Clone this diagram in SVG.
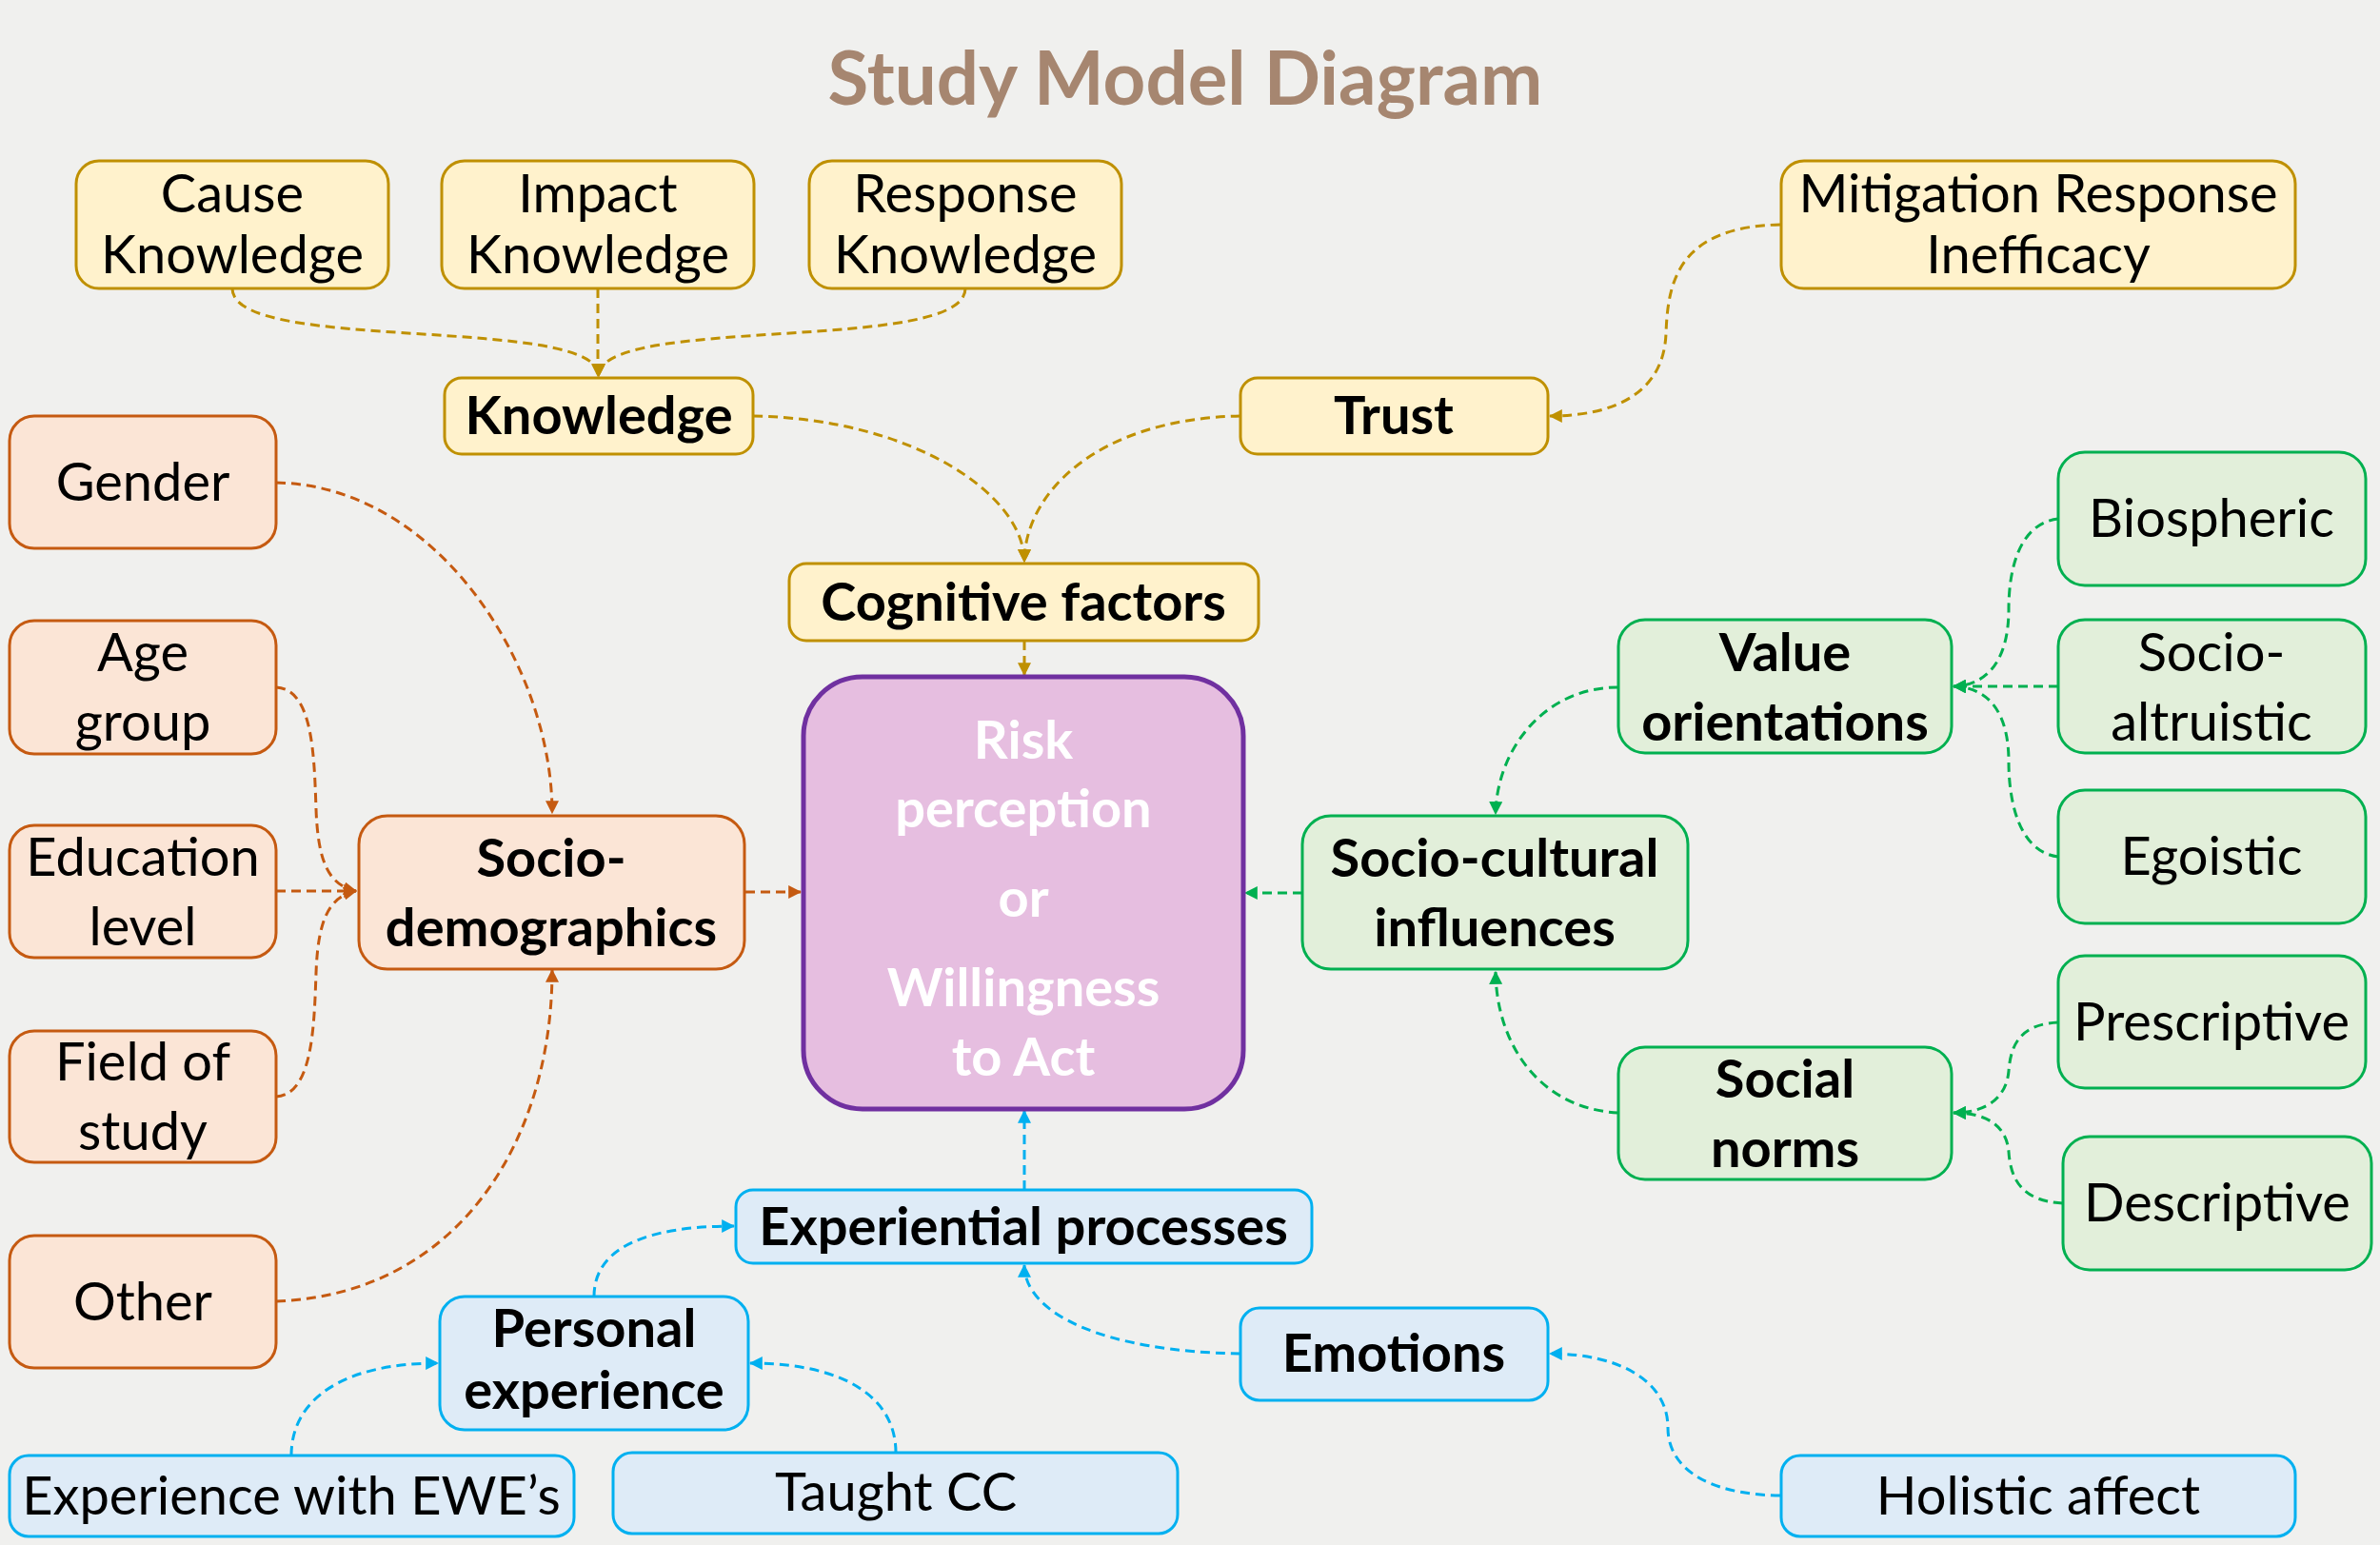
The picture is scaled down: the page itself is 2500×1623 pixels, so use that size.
<svg xmlns="http://www.w3.org/2000/svg" width="2500" height="1623" viewBox="0 0 2500 1623">
<defs>
<marker id="aY" viewBox="0 0 12 12" refX="11" refY="6" markerWidth="14" markerHeight="14" markerUnits="userSpaceOnUse" orient="auto"><path d="M0,0 L12,6 L0,12 Z" fill="#BF9000"/></marker>
<marker id="aO" viewBox="0 0 12 12" refX="11" refY="6" markerWidth="14" markerHeight="14" markerUnits="userSpaceOnUse" orient="auto"><path d="M0,0 L12,6 L0,12 Z" fill="#C55A11"/></marker>
<marker id="aG" viewBox="0 0 12 12" refX="11" refY="6" markerWidth="14" markerHeight="14" markerUnits="userSpaceOnUse" orient="auto"><path d="M0,0 L12,6 L0,12 Z" fill="#00B050"/></marker>
<marker id="aB" viewBox="0 0 12 12" refX="11" refY="6" markerWidth="14" markerHeight="14" markerUnits="userSpaceOnUse" orient="auto"><path d="M0,0 L12,6 L0,12 Z" fill="#00B0F0"/></marker>
</defs>
<style>
text{font-family:Lato,"Open Sans","Liberation Sans",sans-serif;text-anchor:middle;fill:#000;font-size:56px}
.b{font-weight:bold}
.w{fill:#fff;font-weight:bold}
.title{font-size:78px;font-weight:bold;fill:#A68670}
rect{stroke-width:3}
.y{fill:#FFF2CC;stroke:#BF9000}
.o{fill:#FBE5D6;stroke:#C55A11}
.g{fill:#E2EFDA;stroke:#00B050}
.bl{fill:#DEEBF7;stroke:#00B0F0}
.m{fill:#E6BEE0;stroke:#7030A0;stroke-width:5}
path.c{fill:none;stroke-width:3;stroke-dasharray:10 6}
.cy{stroke:#BF9000}
.co{stroke:#C55A11}
.cg{stroke:#00B050}
.cb{stroke:#00B0F0}
</style>
<rect x="0" y="0" width="2500" height="1623" fill="#F0F0EE"/>
<text class="title" x="1245" y="110">Study Model Diagram</text>

<g id="connectors">
<path class="c cy" d="M244,303 C244,372 629,330 629,395" marker-end="url(#aY)"/>
<path class="c cy" d="M628,303 L628,395" marker-end="url(#aY)"/>
<path class="c cy" d="M1014,303 C1014,372 629,330 629,395" marker-end="url(#aY)"/>
<path class="c cy" d="M791,437 C960,440 1076,520 1076,590" marker-end="url(#aY)"/>
<path class="c cy" d="M1303,437 C1150,440 1076,520 1076,590" marker-end="url(#aY)"/>
<path class="c cy" d="M1870,236 C1760,238 1752,300 1750,350 C1748,410 1700,437 1628,437" marker-end="url(#aY)"/>
<path class="c cy" d="M1076,673 L1076,709" marker-end="url(#aY)"/>

<path class="c co" d="M290,507 C460,510 580,700 580,854" marker-end="url(#aO)"/>
<path class="c co" d="M290,722 C328,724 330,790 332,850 C334,905 345,930 374,936" marker-end="url(#aO)"/>
<path class="c co" d="M290,936 L374,936" marker-end="url(#aO)"/>
<path class="c co" d="M290,1152 C328,1150 330,1080 332,1022 C334,967 345,942 374,936" marker-end="url(#aO)"/>
<path class="c co" d="M290,1367 C480,1360 580,1200 580,1019" marker-end="url(#aO)"/>
<path class="c co" d="M783,937 L841,937" marker-end="url(#aO)"/>

<path class="c cg" d="M1700,722 C1620,722 1572,790 1571,855" marker-end="url(#aG)"/>
<path class="c cg" d="M1700,1169 C1620,1165 1572,1100 1571,1021" marker-end="url(#aG)"/>
<path class="c cg" d="M1368,938 L1308,938" marker-end="url(#aG)"/>
<path class="c cg" d="M2162,545 C2120,550 2110,600 2110,640 C2110,690 2090,720 2052,721" marker-end="url(#aG)"/>
<path class="c cg" d="M2162,721 L2052,721" marker-end="url(#aG)"/>
<path class="c cg" d="M2162,900 C2120,895 2110,840 2110,800 C2110,750 2090,722 2052,721" marker-end="url(#aG)"/>
<path class="c cg" d="M2162,1074 C2120,1076 2112,1100 2110,1125 C2108,1150 2090,1169 2052,1169" marker-end="url(#aG)"/>
<path class="c cg" d="M2167,1264 C2125,1262 2112,1240 2110,1210 C2108,1185 2090,1169 2052,1169" marker-end="url(#aG)"/>

<path class="c cb" d="M1076,1250 L1076,1167" marker-end="url(#aB)"/>
<path class="c cb" d="M624,1362 C624,1310 680,1288 771,1288" marker-end="url(#aB)"/>
<path class="c cb" d="M1303,1422 C1160,1420 1076,1380 1076,1329" marker-end="url(#aB)"/>
<path class="c cb" d="M306,1529 C306,1470 360,1432 460,1432" marker-end="url(#aB)"/>
<path class="c cb" d="M941,1526 C941,1470 890,1432 788,1432" marker-end="url(#aB)"/>
<path class="c cb" d="M1870,1571 C1790,1570 1752,1540 1752,1500 C1752,1450 1700,1422 1628,1422" marker-end="url(#aB)"/>
</g>

<g id="cause-knowledge"><rect class="y" x="80" y="169" width="328" height="134" rx="24"/><text x="244" y="223">Cause</text><text x="244" y="287">Knowledge</text></g>
<g id="impact-knowledge"><rect class="y" x="464" y="169" width="328" height="134" rx="24"/><text x="628" y="223">Impact</text><text x="628" y="287">Knowledge</text></g>
<g id="response-knowledge"><rect class="y" x="850" y="169" width="328" height="134" rx="24"/><text x="1014" y="223">Response</text><text x="1014" y="287">Knowledge</text></g>
<g id="mitigation"><rect class="y" x="1871" y="169" width="540" height="134" rx="24"/><text x="2141" y="223">Mitigation Response</text><text x="2141" y="287">Inefficacy</text></g>
<g id="knowledge"><rect class="y" x="467" y="397" width="324" height="80" rx="18"/><text class="b" x="629" y="456">Knowledge</text></g>
<g id="trust"><rect class="y" x="1303" y="397" width="323" height="80" rx="18"/><text class="b" x="1464" y="456">Trust</text></g>
<g id="cognitive"><rect class="y" x="829" y="592" width="493" height="81" rx="18"/><text class="b" x="1075" y="652">Cognitive factors</text></g>

<g id="risk"><rect class="m" x="844" y="711" width="462" height="454" rx="62"/>
<text class="w" x="1075" y="797">Risk</text><text class="w" x="1075" y="869">perception</text><text class="w" x="1075" y="963">or</text><text class="w" x="1075" y="1057">Willingness</text><text class="w" x="1075" y="1130">to Act</text></g>

<g id="gender"><rect class="o" x="10" y="437" width="280" height="139" rx="26"/><text x="150" y="526">Gender</text></g>
<g id="age"><rect class="o" x="10" y="652" width="280" height="140" rx="26"/><text x="150" y="705">Age</text><text x="150" y="778">group</text></g>
<g id="education"><rect class="o" x="10" y="867" width="280" height="139" rx="26"/><text x="150" y="920">Education</text><text x="150" y="993">level</text></g>
<g id="field"><rect class="o" x="10" y="1083" width="280" height="138" rx="26"/><text x="150" y="1135">Field of</text><text x="150" y="1208">study</text></g>
<g id="other"><rect class="o" x="10" y="1298" width="280" height="139" rx="26"/><text x="150" y="1387">Other</text></g>
<g id="sociodemo"><rect class="o" x="377" y="857" width="405" height="161" rx="30"/><text class="b" x="579" y="921">Socio-</text><text class="b" x="579" y="994">demographics</text></g>

<g id="value"><rect class="g" x="1700" y="651" width="350" height="140" rx="28"/><text class="b" x="1875" y="705">Value</text><text class="b" x="1875" y="778">orientations</text></g>
<g id="biospheric"><rect class="g" x="2162" y="475" width="323" height="140" rx="28"/><text x="2323" y="564">Biospheric</text></g>
<g id="altruistic"><rect class="g" x="2162" y="651" width="323" height="140" rx="28"/><text x="2323" y="705">Socio-</text><text x="2323" y="778">altruistic</text></g>
<g id="egoistic"><rect class="g" x="2162" y="830" width="323" height="140" rx="28"/><text x="2323" y="919">Egoistic</text></g>
<g id="sociocultural"><rect class="g" x="1368" y="857" width="405" height="161" rx="30"/><text class="b" x="1570" y="921">Socio-cultural</text><text class="b" x="1570" y="994">influences</text></g>
<g id="socialnorms"><rect class="g" x="1700" y="1100" width="350" height="139" rx="28"/><text class="b" x="1875" y="1153">Social</text><text class="b" x="1875" y="1226">norms</text></g>
<g id="prescriptive"><rect class="g" x="2162" y="1004" width="323" height="139" rx="28"/><text x="2323" y="1093">Prescriptive</text></g>
<g id="descriptive"><rect class="g" x="2167" y="1194" width="324" height="140" rx="28"/><text x="2329" y="1283">Descriptive</text></g>

<g id="experiential"><rect class="bl" x="773" y="1250" width="605" height="77" rx="18"/><text class="b" x="1075" y="1308">Experiential processes</text></g>
<g id="personal"><rect class="bl" x="462" y="1362" width="324" height="140" rx="26"/><text class="b" x="624" y="1415">Personal</text><text class="b" x="624" y="1480">experience</text></g>
<g id="emotions"><rect class="bl" x="1303" y="1374" width="323" height="97" rx="20"/><text class="b" x="1464" y="1441">Emotions</text></g>
<g id="ewe"><rect class="bl" x="10" y="1529" width="593" height="85" rx="20"/><text x="306" y="1591">Experience with EWE’s</text></g>
<g id="taught"><rect class="bl" x="644" y="1526" width="593" height="85" rx="20"/><text x="941" y="1587">Taught CC</text></g>
<g id="holistic"><rect class="bl" x="1871" y="1529" width="540" height="85" rx="20"/><text x="2141" y="1591">Holistic affect</text></g>
</svg>
